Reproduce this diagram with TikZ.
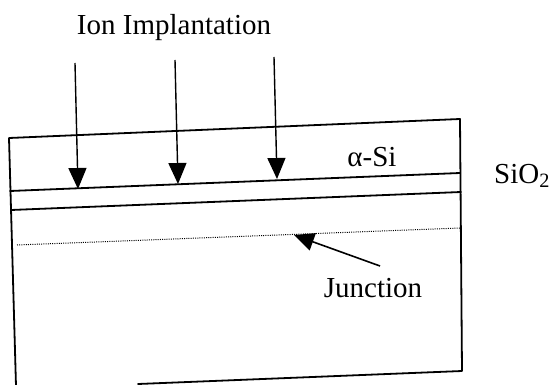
\documentclass[tikz,border=0pt]{standalone}
\usepackage{fontspec}
\setmainfont{Liberation Serif}
\usetikzlibrary{arrows.meta}
\tikzset{
  edge/.style={line width=1.8pt, line cap=round, line join=round},
  ion/.style={line width=1.4pt, -{Triangle[length=21pt,width=18pt]}},
  lbl/.style={inner sep=0pt, font=\fontsize{29}{31}\selectfont},
  junc/.style={dash pattern=on 1pt off 1.2pt, line width=1pt, black},
}
\begin{document}
\begin{tikzpicture}[x=1pt,y=-1pt]
\useasboundingbox (0,0) rectangle (557,385);
% outline corners
\coordinate (tl) at (9,138);
\coordinate (tr) at (460,119);
\coordinate (br) at (462,371);
\coordinate (bl) at (16,386);
\coordinate (bs) at (138,384);
\draw[edge] (bl) -- (tl) -- (tr) -- (br) -- (bs);
% layer lines
\coordinate (a1) at (10,191);
\coordinate (a2) at (460,173);
\coordinate (s1) at (11,210);
\coordinate (s2) at (461,192);
\draw[edge] (a1) -- (a2);
\draw[edge] (s1) -- (s2);
% junction dotted line
\coordinate (j1) at (17,245);
\coordinate (j2) at (460,228);
\draw[junc] (j1) -- (j2);
% ion arrows
\coordinate (i1) at (75,63);
\coordinate (t1) at (78,189);
\coordinate (i2) at (175,60);
\coordinate (t2) at (178,184);
\coordinate (i3) at (274,57);
\coordinate (t3) at (277,179);
\draw[ion] (i1) -- (t1);
\draw[ion] (i2) -- (t2);
\draw[ion] (i3) -- (t3);
% labels
\node[lbl, anchor=base] (ion) at (174,35) {Ion Implantation};
\node[lbl, anchor=base] (asi) at (372,167) {α-Si};
\node[lbl, anchor=base west] (sio) at (494,183) {SiO\textsubscript{2}};
\node[lbl, anchor=base] (jn) at (373,297) {Junction};
% junction arrow
\coordinate (jt) at (294,235);
\coordinate (js) at (380,266);
\draw[line width=1.6pt, -{Triangle[length=20pt,width=18pt]}] (js) -- (jt);
\end{tikzpicture}
\end{document}
